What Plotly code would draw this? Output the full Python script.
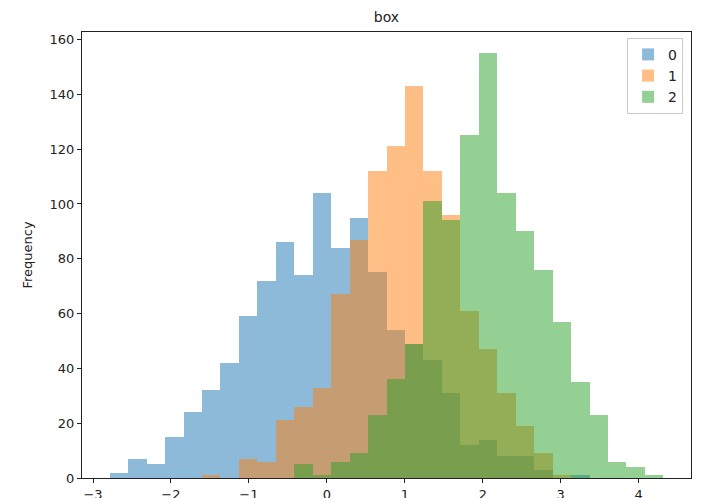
import numpy as np
import plotly.graph_objects as go

# Shared histogram bins (30 bins)
bin_lo = -2.786
bin_hi = 4.316
n_bins = 30

series_names = ["0", "1", "2"]
counts_0 = [2, 7, 5, 15, 24, 32, 42, 59, 72, 86, 74, 104, 84, 95, 75,
            54, 49, 43, 31, 12, 14, 8, 8, 3, 0, 1, 0, 0, 0, 0]
counts_1 = [0, 0, 0, 0, 0, 1, 0, 7, 6, 21, 26, 33, 67, 87, 112,
            121, 143, 112, 96, 61, 47, 31, 19, 9, 1, 0, 0, 0, 0, 0]
counts_2 = [0, 0, 0, 0, 0, 0, 0, 0, 0, 0, 5, 1, 6, 9, 23,
            36, 49, 101, 94, 125, 155, 104, 90, 76, 57, 35, 23, 6, 4, 1]
colors = ["#1f77b4", "#ff7f0e", "#2ca02c"]

x_ticks = [-3, -2, -1, 0, 1, 2, 3, 4]
y_ticks = [0, 20, 40, 60, 80, 100, 120, 140, 160]

edges = np.linspace(bin_lo, bin_hi, n_bins + 1)
centers = (edges[:-1] + edges[1:]) / 2
width = edges[1] - edges[0]

fig = go.Figure()
for name, counts, col in zip(series_names, [counts_0, counts_1, counts_2], colors):
    fig.add_trace(go.Bar(
        x=centers, y=counts, width=width, name=name,
        marker=dict(color=col, line=dict(width=0)),
        opacity=0.5,
    ))

span = bin_hi - bin_lo
ymax = max(max(counts_0), max(counts_1), max(counts_2))
font = dict(family="DejaVu Sans", size=13, color="#222222")

fig.update_layout(
    barmode="overlay",
    bargap=0,
    width=727, height=498,
    margin=dict(l=82, r=36, t=32, b=20, autoexpand=False),
    paper_bgcolor="white",
    plot_bgcolor="white",
    font=font,
    title=dict(text="box", x=(82 + 691) / 2 / 727, xanchor="center",
               y=1 - 17 / 498, yanchor="middle",
               font=dict(family="DejaVu Sans", size=14, color="#222222")),
    showlegend=True,
    legend=dict(x=0.987, xanchor="right", y=0.987, yanchor="top",
                bgcolor="rgba(255,255,255,0.8)", bordercolor="#cccccc",
                borderwidth=1, font=dict(family="DejaVu Sans", size=14),
                itemwidth=30, tracegroupgap=2),
    xaxis=dict(range=[bin_lo - 0.05 * span, bin_hi + 0.05 * span],
               tickvals=x_ticks, ticks="outside", ticklen=4, tickwidth=1,
               tickcolor="#222222", showline=True, linecolor="#222222",
               linewidth=1, mirror=True, showgrid=False, zeroline=False,
               tickfont=font, automargin=False),
    yaxis=dict(range=[0, ymax * 1.05], tickvals=y_ticks, ticks="outside",
               ticklen=4, tickwidth=1, tickcolor="#222222", showline=True,
               linecolor="#222222", linewidth=1, mirror=True, showgrid=False,
               zeroline=False, tickfont=font, automargin=False,
               title=dict(text="Frequency", standoff=14,
                          font=dict(family="DejaVu Sans", size=13))),
)

fig.write_html("out.html")
